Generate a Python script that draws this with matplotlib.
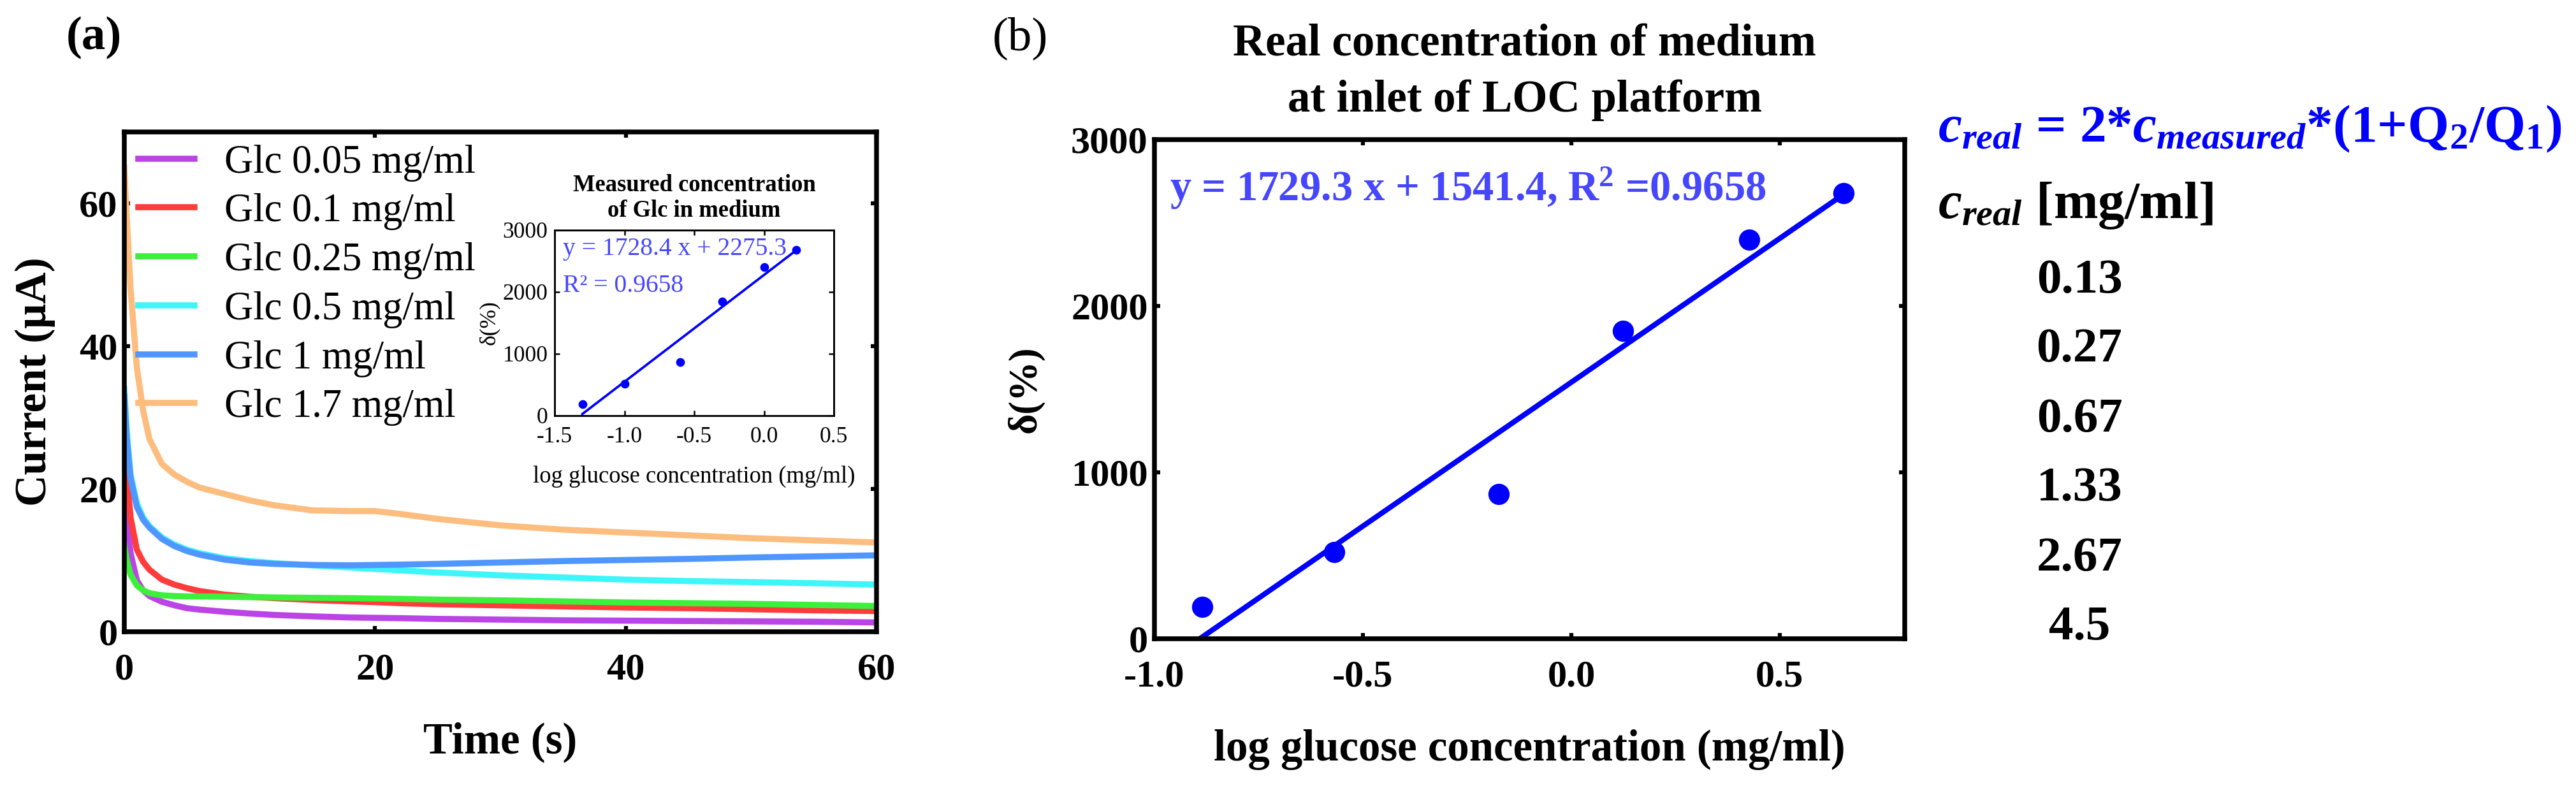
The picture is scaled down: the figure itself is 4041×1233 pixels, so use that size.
import numpy as np
import matplotlib
matplotlib.use('Agg')
from matplotlib import pyplot as plt
from matplotlib import rcParams

rcParams['font.family'] = ['Liberation Serif', 'DejaVu Serif']
rcParams['axes.unicode_minus'] = False
rcParams['mathtext.fontset'] = 'custom'
rcParams['mathtext.rm'] = 'Liberation Serif:bold'
rcParams['mathtext.it'] = 'Liberation Serif:italic:bold'
rcParams['mathtext.bf'] = 'Liberation Serif:bold'

# (a) amperometric responses, current in uA vs time in s
t = [0, 0.2, 0.5, 1, 1.5, 2, 3, 4, 5, 6, 8, 10, 12, 15, 18, 20, 22, 25, 30, 35, 40, 45, 50, 55, 60]
glc_005 = [22, 16, 11, 7.2, 5.8, 5.0, 4.2, 3.7, 3.3, 3.1, 2.8, 2.55, 2.35, 2.15, 2.0, 1.95, 1.9, 1.8,
           1.7, 1.6, 1.55, 1.5, 1.45, 1.4, 1.3]
glc_01 = [30, 22, 16, 11.5, 9.8, 8.7, 7.3, 6.6, 6.1, 5.7, 5.2, 4.9, 4.7, 4.45, 4.25, 4.15, 4.0, 3.85,
          3.7, 3.55, 3.4, 3.3, 3.15, 3.0, 2.9]
glc_025 = [12, 10, 8, 6.5, 5.8, 5.4, 5.1, 5.0, 4.95, 4.95, 4.9, 4.85, 4.8, 4.75, 4.7, 4.65, 4.6, 4.5,
           4.4, 4.25, 4.1, 4.0, 3.9, 3.75, 3.6]
glc_05 = [34, 28, 22, 18, 16, 14.8, 13.2, 12.2, 11.5, 11.0, 10.3, 9.9, 9.6, 9.3, 9.0, 8.8, 8.6, 8.3,
          7.9, 7.6, 7.3, 7.1, 6.95, 6.8, 6.6]
glc_1 = [33, 27, 21.5, 17.5, 15.7, 14.6, 13.0, 12.0, 11.3, 10.8, 10.1, 9.7, 9.5, 9.35, 9.3, 9.35, 9.4,
         9.5, 9.7, 9.9, 10.05, 10.2, 10.4, 10.55, 10.7]
glc_17 = [65, 58, 48, 37, 31, 27, 23.5, 22, 21, 20.2, 19.3, 18.4, 17.7, 17.0, 16.9, 16.9, 16.5, 15.8,
          14.9, 14.3, 13.9, 13.5, 13.1, 12.8, 12.5]
curves = [glc_005, glc_01, glc_025, glc_05, glc_1, glc_17]
glc_conc = [0.05, 0.1, 0.25, 0.5, 1, 1.7]
colors = ['#bb44e6', '#ff3c3c', '#3cf03c', '#3ef6fa', '#5096ff', '#fdbd7e']

# calibration: delta (%) vs log concentration
delta_pct = [190, 520, 870, 1850, 2400, 2680]
fit_measured = (1728.4, 2275.3)
real_conc = [0.13, 0.27, 0.67, 1.33, 2.67, 4.5]
fit_real = (1729.3, 1541.4)
r2 = 0.9658

W, H = 4041, 1233
fig = plt.figure(figsize=(W / 300, H / 300), dpi=300)

# ---------- panel (a)
ax1 = fig.add_axes([195 / W, 1 - 991 / H, 1180 / W, 784 / H])
for y, c, col in zip(curves, glc_conc, colors):
    ax1.plot(t, y, color=col, lw=2.3, label=f'Glc {c:g} mg/ml')
ax1.set_xlim(0, 60)
ax1.set_ylim(0, 70)
ax1.set_xticks([0, 20, 40, 60])
ax1.set_yticks([0, 20, 40, 60])
ax1.legend(loc='upper left', bbox_to_anchor=(0.019, 0.975), frameon=False, fontsize=15,
           handlelength=1.4, handletextpad=0.75, labelspacing=0.3, borderpad=0, borderaxespad=0)
ax1.set_xlabel('Time (s)', fontsize=16.5, fontweight='bold', labelpad=13)
ax1.set_ylabel('Current (μA)', fontsize=16.5, fontweight='bold', labelpad=9)

# inset of (a)
axin = fig.add_axes([870 / W, 1 - 652 / H, 438 / W, 291 / H])
x_meas = np.log10(glc_conc)
axin.plot(x_meas, delta_pct, 'o', color='#0000ff', ms=3.3, mec='none')
xi = np.array([x_meas.min(), x_meas.max()])
axin.plot(xi, fit_measured[0] * xi + fit_measured[1], color='#0000ff', lw=0.9)
axin.set_xlim(-1.5, 0.5)
axin.set_ylim(0, 3000)
axin.set_xticks([-1.5, -1.0, -0.5, 0.0, 0.5])
axin.set_xticklabels(['-1.5', '-1.0', '-0.5', '0.0', '0.5'])
axin.set_yticks([0, 1000, 2000, 3000])
axin.tick_params(direction='in', top=True, right=True, length=2, width=0.6, labelsize=8.5, pad=2.5)
axin.tick_params(axis='x', pad=4)
for s in axin.spines.values():
    s.set_linewidth(0.7)
axin.set_title('Measured concentration\nof Glc in medium', fontsize=8.8, fontweight='bold', pad=5)
axin.set_xlabel('log glucose concentration (mg/ml)', fontsize=8.8, labelpad=7)
axin.set_ylabel('δ(%)', fontsize=8.5, labelpad=1)
axin.text(0.03, 0.9, f'y = {fit_measured[0]} x + {fit_measured[1]}', transform=axin.transAxes,
          color='#4646ff', fontsize=9.5, va='center')
axin.text(0.03, 0.7, f'R² = {r2}', transform=axin.transAxes, color='#4646ff', fontsize=9.5, va='center')

# ---------- panel (b)
ax2 = fig.add_axes([1811 / W, 1 - 1002 / H, 1177 / W, 783 / H])
x_real = np.log10(real_conc)
ax2.plot(x_real, delta_pct, 'o', color='#0000ff', ms=8, mec='none')
xf = np.array([x_real.min(), x_real.max()])
ax2.plot(xf, fit_real[0] * xf + fit_real[1], color='#0000ff', lw=2)
ax2.set_xlim(-1.0, 0.8)
ax2.set_ylim(0, 3000)
ax2.set_xticks([-1.0, -0.5, 0.0, 0.5])
ax2.set_xticklabels(['-1.0', '-0.5', '0.0', '0.5'])
ax2.set_yticks([0, 1000, 2000, 3000])
ax2.text(0.02, 0.903, f'y = {fit_real[0]} x + {fit_real[1]}, R$^2$ ={r2}', transform=ax2.transAxes,
         color='#4646ff', fontsize=16, fontweight='bold', va='center')
ax2.set_xlabel('log glucose concentration (mg/ml)', fontsize=16.5, fontweight='bold', labelpad=13)
ax2.set_ylabel('δ(%)', fontsize=15, fontweight='bold', labelpad=10)

# two-line title of (b), one text per line so the baselines sit where they should
title_b = ['Real concentration of medium', 'at inlet of LOC platform']
for line, base in zip(title_b, [87, 175]):
    fig.text(2392 / W, 1 - base / H, line, fontsize=17, fontweight='bold', ha='center', va='baseline')

for ax in (ax1, ax2):
    ax.tick_params(direction='in', top=True, right=True, length=2.2, width=1.5, labelsize=14.5)
    ax.tick_params(axis='x', pad=8)
    ax.tick_params(axis='y', pad=2.5)
    for lab in ax.get_xticklabels() + ax.get_yticklabels():
        lab.set_fontweight('bold')
    for s in ax.spines.values():
        s.set_linewidth(1.8)

fig.text(147 / W, 1 - 59 / H, '(a)', fontsize=18, fontweight='bold', ha='center', va='center')
fig.text(1600 / W, 1 - 60 / H, '(b)', fontsize=18, ha='center', va='center')

# ---------- right-hand table
fig.text(3040 / W, 1 - 202 / H, r'$c_{real}$ = 2*$c_{measured}$*(1+Q$_2$/Q$_1$)', color='#0000ff',
         fontsize=20, fontweight='bold', va='center', ha='left')
fig.text(3040 / W, 1 - 322 / H, r'$c_{real}$ [mg/ml]', fontsize=20, fontweight='bold', va='center')
for i, c in enumerate(real_conc):
    fig.text(3262 / W, 1 - (440 + 109 * i) / H, f'{c:g}', fontsize=18.5, fontweight='bold',
             ha='center', va='center')

fig.savefig('out.png', dpi=300)
